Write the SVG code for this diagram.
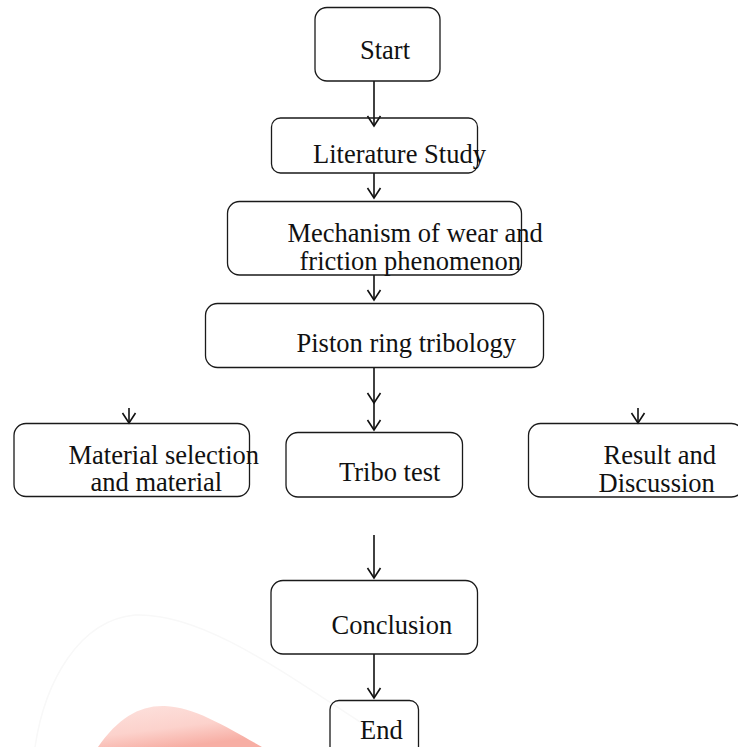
<svg xmlns="http://www.w3.org/2000/svg" width="738" height="747" viewBox="0 0 738 747">
<style>
.box{fill:none;stroke:#1a1a1a;stroke-width:1.3}
.t{font-family:"Liberation Serif","Times New Roman",serif;font-size:26.5px;fill:#111}
.c{fill:none;stroke:#111;stroke-width:1.6}
</style>
<defs>
<marker id="ah" markerUnits="userSpaceOnUse" markerWidth="14" markerHeight="16" viewBox="-12 -8 14 16" refX="0" refY="0" orient="auto" overflow="visible">
<polyline points="-10,-6.5 0,0 -10,6.5" fill="none" stroke="#111" stroke-width="1.6"/>
</marker>
<linearGradient id="wm" x1="0" y1="0" x2="0.5" y2="1">
<stop offset="0" stop-color="#fde2de"/>
<stop offset="0.6" stop-color="#fcd2cc"/>
<stop offset="1" stop-color="#f7aea4"/>
</linearGradient>
</defs>
<rect width="738" height="747" fill="#fff"/>
<g id="watermark">
<path d="M35 747 C 45 680, 80 620, 135 615 C 200 612, 280 670, 360 722" fill="none" stroke="#f8f8f8" stroke-width="1.5"/>
<path d="M98 747 C 118 718, 140 705, 165 706 C 195 707, 228 728, 262 747 Z" fill="url(#wm)"/>
</g>
<g id="connectors">
<path class="c" d="M374 81 V126" marker-end="url(#ah)"/>
<path class="c" d="M374 173 V198" marker-end="url(#ah)"/>
<path class="c" d="M374 275 V300" marker-end="url(#ah)"/>
<path class="c" d="M374 367 V403" marker-end="url(#ah)"/>
<path class="c" d="M374 403 V430" marker-end="url(#ah)"/>
<path class="c" d="M129 408 V423" marker-end="url(#ah)"/>
<path class="c" d="M638 408 V423" marker-end="url(#ah)"/>
<path class="c" d="M374 535 V578" marker-end="url(#ah)"/>
<path class="c" d="M374 654 V698" marker-end="url(#ah)"/>
</g>
<g id="start">
<rect class="box" x="315" y="7.5" width="125" height="73.5" rx="12"/>
<text class="t" x="360" y="59">Start</text>
</g>
<g id="literature">
<rect class="box" x="271.5" y="118" width="206" height="55" rx="9"/>
<text class="t" x="313" y="163">Literature Study</text>
</g>
<g id="mechanism">
<rect class="box" x="227.5" y="201.5" width="294" height="73.5" rx="12"/>
<text class="t" x="287.5" y="241.5">Mechanism of wear and</text>
<text class="t" x="299.5" y="270">friction phenomenon</text>
</g>
<g id="piston">
<rect class="box" x="205.5" y="303.5" width="338" height="64" rx="12"/>
<text class="t" x="296.5" y="351.5">Piston ring tribology</text>
</g>
<g id="material">
<rect class="box" x="14" y="423.5" width="235.5" height="73" rx="12"/>
<text class="t" x="68.5" y="464">Material selection</text>
<text class="t" x="90.5" y="490.5">and material</text>
</g>
<g id="tribo">
<rect class="box" x="286" y="432.5" width="176.5" height="64.5" rx="12"/>
<text class="t" x="339" y="480.5">Tribo test</text>
</g>
<g id="result">
<rect class="box" x="528.5" y="423.5" width="215" height="73.5" rx="12"/>
<text class="t" x="603.5" y="464">Result and</text>
<text class="t" x="598.5" y="491.5">Discussion</text>
</g>
<g id="conclusion">
<rect class="box" x="271" y="580.5" width="206.5" height="73.5" rx="12"/>
<text class="t" x="331.5" y="633.5">Conclusion</text>
</g>
<g id="end">
<rect class="box" x="330" y="700.5" width="88.5" height="60" rx="9"/>
<text class="t" x="360" y="739">End</text>
</g>
</svg>
